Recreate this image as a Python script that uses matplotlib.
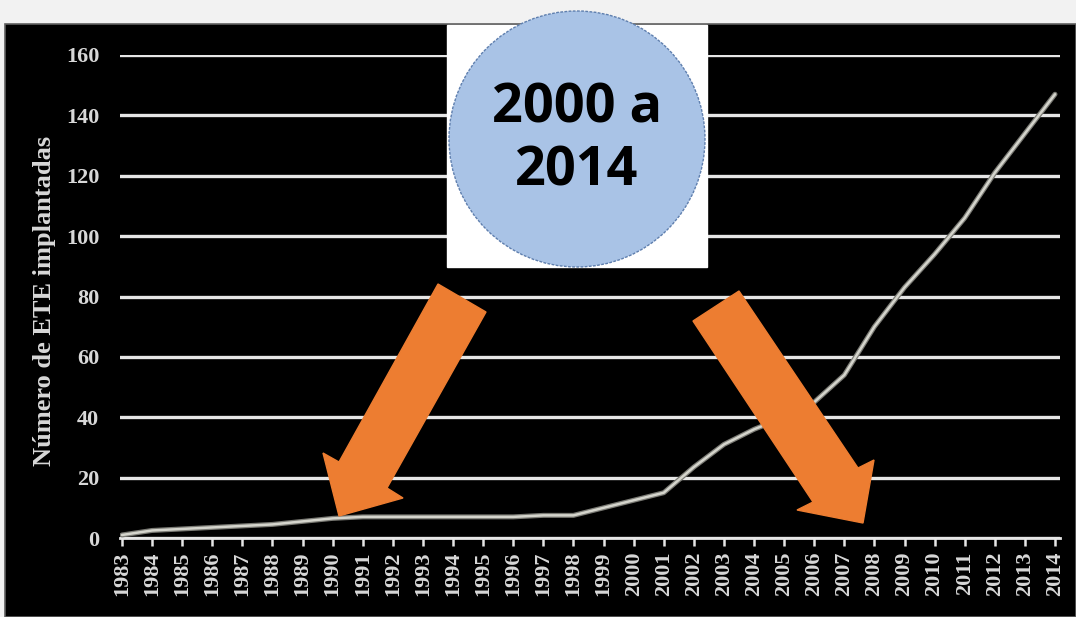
import matplotlib.pyplot as plt
from matplotlib.patches import Rectangle, Circle, Polygon

# Dados do gráfico
anos = list(range(1983, 2015))
ete_implantadas = [1, 2.5, 3, 3.5, 4, 4.5, 5.5, 6.5, 7, 7, 7, 7, 7, 7, 7.5, 7.5,
                   10, 12.5, 15, 23.5, 31, 36, 40, 45, 54, 70, 83, 94, 106, 121, 134, 147]
y_ticks = [0, 20, 40, 60, 80, 100, 120, 140, 160]
titulo_y = 'Número de ETE implantadas'
destaque = '2000 a\n2014'

W, H = 1076, 617
fig = plt.figure(figsize=(W / 100, H / 100), dpi=100)

# Fundo em coordenadas de pixel
bg = fig.add_axes([0, 0, 1, 1], zorder=0)
bg.set_xlim(0, W)
bg.set_ylim(H, 0)
bg.axis('off')
bg.add_patch(Rectangle((0, 0), W, H, color='#f2f2f2'))
bg.add_patch(Rectangle((5, 24), W - 5, H - 24, facecolor='black', edgecolor='#606060', lw=1.2))

# Gráfico principal
ax = fig.add_axes([120 / W, (H - 538) / H, 940 / W, 483 / H], zorder=1)
ax.set_facecolor('none')
ax.plot(anos, ete_implantadas, color='#7a7a74', lw=3.6, solid_capstyle='round', zorder=3)
ax.plot(anos, ete_implantadas, color='#d4d4cc', lw=1.8, solid_capstyle='round', zorder=4)
ax.set_xlim(1982.934, 2014.166)
ax.set_ylim(0, 160)
ax.set_yticks(y_ticks)
ax.set_xticks(anos)
ax.set_xticklabels([str(a) for a in anos], rotation=90)
ax.yaxis.grid(True, color='#e6e6e6', lw=2.4)
ax.set_axisbelow(True)
for lado in ['top', 'right', 'left']:
    ax.spines[lado].set_visible(False)
ax.spines['bottom'].set_color('#e6e6e6')
ax.spines['bottom'].set_linewidth(2)
ax.tick_params(axis='x', direction='out', length=6, width=1.8, color='#e6e6e6', pad=4)
ax.tick_params(axis='y', length=0, pad=15)
for rot in ax.get_xticklabels():
    rot.set_fontfamily('Liberation Serif')
    rot.set_fontweight('bold')
    rot.set_fontsize(16)
    rot.set_color('#d8d8d8')
for rot in ax.get_yticklabels():
    rot.set_fontfamily('Liberation Serif')
    rot.set_fontweight('bold')
    rot.set_fontsize(16)
    rot.set_color('#d8d8d8')

fig.text(45 / W, 1 - 301 / H, titulo_y, rotation=90, ha='center', va='center',
         fontsize=19, fontweight='bold', family='Liberation Serif', color='#d8d8d8')

# Camada de anotações (caixa, círculo e setas)
ov = fig.add_axes([0, 0, 1, 1], zorder=2)
ov.set_xlim(0, W)
ov.set_ylim(H, 0)
ov.axis('off')
ov.set_facecolor('none')
ov.add_patch(Rectangle((447, 25), 260, 242, color='white'))
ov.add_patch(Circle((577, 139), 128, facecolor='#a9c3e6', edgecolor='#5f7fae', lw=1, ls=(0, (2, 1))))
ov.text(577, 140, destaque, ha='center', va='center', fontsize=39, fontweight='bold',
        family='Open Sans', color='black', linespacing=1.2)

laranja = '#ed7d31'
seta_esq = [(438, 284), (486, 312), (387, 488), (403, 498), (339, 516), (323, 453), (339, 462)]
seta_dir = [(693, 321), (739, 291), (858, 468), (874, 460), (863, 523), (797, 510), (813, 502)]
ov.add_patch(Polygon(seta_esq, closed=True, color=laranja))
ov.add_patch(Polygon(seta_dir, closed=True, color=laranja))

fig.savefig('out.png', dpi=100)
